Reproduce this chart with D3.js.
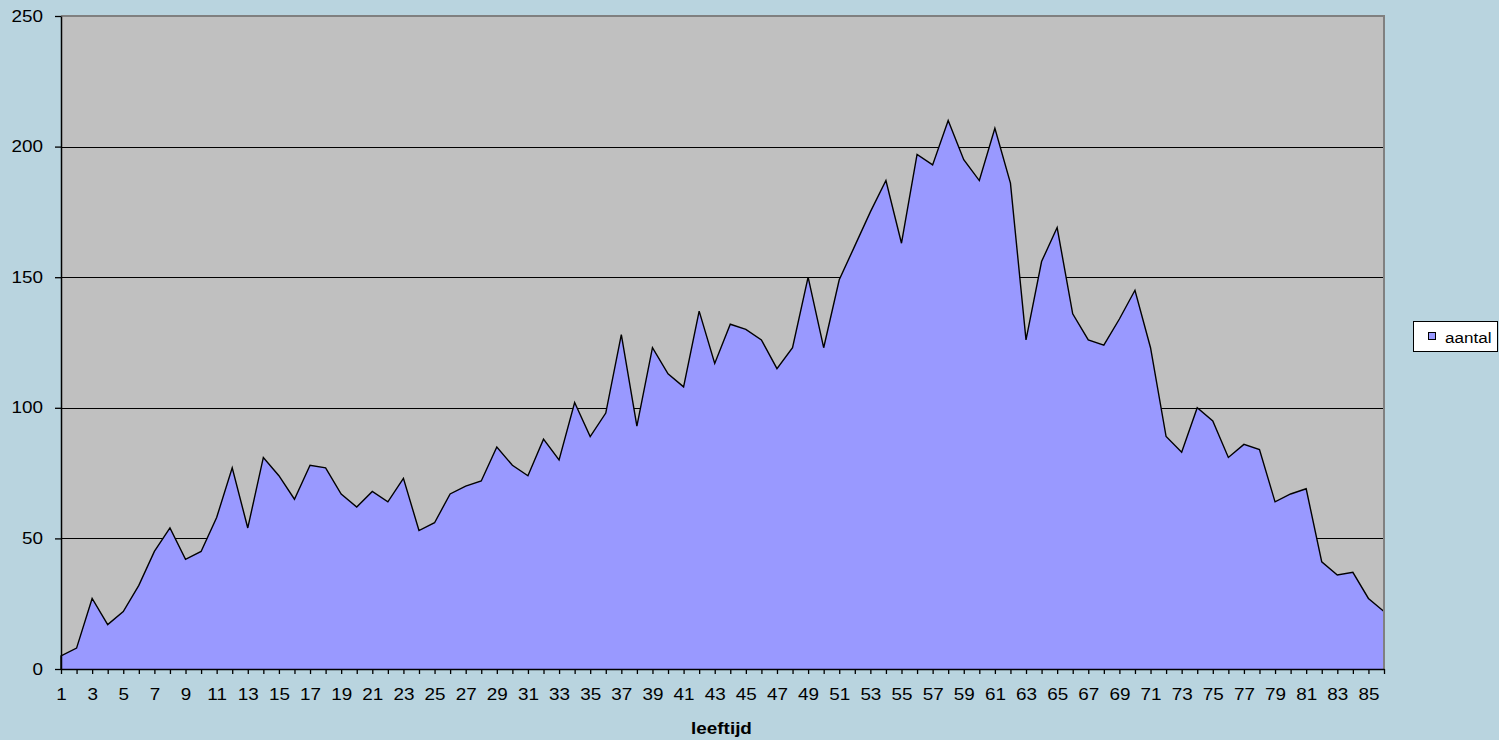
<!DOCTYPE html>
<html>
<head>
<meta charset="utf-8">
<script src="https://cdn.jsdelivr.net/npm/d3@7"></script>
<style>
html,body{margin:0;padding:0;background:#B9D4DF;}
svg{display:block;}
text{font-family:"Liberation Sans",Arial,sans-serif;fill:#000;}
</style>
</head>
<body>
<svg id="chart" width="1499" height="740"></svg>
<script>
const ages = d3.range(1, 87);
const aantal = [5,8,27,17,22,32,45,54,42,45,58,77,54,81,74,65,78,77,67,62,68,64,73,53,56,67,70,72,85,78,74,88,80,102,89,98,128,93,123,113,108,137,117,132,130,126,115,123,150,123,149,162,175,187,163,197,193,210,195,187,207,186,126,156,169,136,126,124,134,145,123,89,83,100,95,81,86,84,64,67,69,41,36,37,27,22];
const yTicks = [0,50,100,150,200,250];
const gridValues = [50,100,150,200];
const seriesName = "aantal";
const xTitle = "leeftijd";

(function () {
const W = 1499, H = 740;
const pL = 61, pR = 1384, pT = 16, pB = 669;
const SX = 1.18; // horizontal text stretch seen in the reference

const svg = d3.select("#chart");
svg.append("rect").attr("width", W).attr("height", H).attr("fill", "#B9D4DF");

const x = d3.scalePoint().domain(ages).range([pL, pR]).padding(0);
const y = d3.scaleLinear().domain([0, 250]).range([pB, pT]);

// plot area
svg.append("rect").attr("x", pL).attr("y", pT).attr("width", pR - pL).attr("height", pB - pT)
  .attr("fill", "#C0C0C0");

// gridlines
svg.append("g").selectAll("line").data(gridValues).join("line")
  .attr("x1", pL).attr("x2", pR)
  .attr("y1", d => Math.round(y(d)) + 0.5).attr("y2", d => Math.round(y(d)) + 0.5)
  .attr("stroke", "#000").attr("stroke-width", 1);

// area
const data = ages.map((a, i) => ({a, v: aantal[i]}));
const area = d3.area().x(d => x(d.a)).y0(y(0)).y1(d => y(d.v));
svg.append("path").datum(data).attr("d", area).attr("fill", "#9999FF");
const outline = [{a: ages[0], v: 0}, ...data, {a: ages[ages.length - 1], v: 0}];
svg.append("path").datum(outline)
  .attr("d", d3.line().x(d => x(d.a)).y(d => y(d.v)))
  .attr("fill", "none").attr("stroke", "#000").attr("stroke-width", 1.4).attr("stroke-linejoin", "miter");

// plot border (top/right gray)
svg.append("path")
  .attr("d", `M${pL},${pT} H${pR} V${pB}`)
  .attr("fill", "none").attr("stroke", "#808080").attr("stroke-width", 2);

// y axis
const yAxis = d3.axisLeft(y).tickValues(yTicks).tickSize(6).tickSizeOuter(0);
const gy = svg.append("g").attr("transform", `translate(${pL},0)`).call(yAxis);
gy.select(".domain").attr("stroke", "#000").attr("stroke-width", 1.5);
gy.selectAll(".tick line").attr("stroke", "#000").attr("stroke-width", 1.3);
gy.selectAll(".tick text")
  .attr("x", -18 / SX).attr("transform", `scale(${SX},1)`)
  .style("font-size", "16px").style("font-family", "'Liberation Sans',Arial,sans-serif").attr("fill", "#000");

// x axis
const xAxis = d3.axisBottom(x).tickValues(ages).tickSize(5).tickSizeOuter(0)
  .tickFormat(d => (d % 2 === 1 ? String(d) : ""));
const gx = svg.append("g").attr("transform", `translate(0,${pB})`).call(xAxis);
gx.select(".domain").attr("stroke", "#000").attr("stroke-width", 1.5);
gx.selectAll(".tick line").attr("stroke", "#000").attr("stroke-width", 1.3);
gx.selectAll(".tick text")
  .attr("y", 31).attr("dy", 0).attr("transform", `scale(${SX},1)`)
  .style("font-size", "16px").style("font-family", "'Liberation Sans',Arial,sans-serif").attr("fill", "#000");

// x title
svg.append("text")
  .attr("transform", `translate(${(pL + pR) / 2 - 1},734) scale(${SX},1)`)
  .attr("text-anchor", "middle")
  .style("font-size", "16px").style("font-weight", "bold")
  .text(xTitle);

// legend
const lg = svg.append("g");
lg.append("rect").attr("x", 1413.5).attr("y", 321.5).attr("width", 84).attr("height", 30)
  .attr("fill", "#fff").attr("stroke", "#000").attr("stroke-width", 1);
lg.append("rect").attr("x", 1428.5).attr("y", 332.5).attr("width", 7).attr("height", 7)
  .attr("fill", "#9999FF").attr("stroke", "#000").attr("stroke-width", 1);
lg.append("text")
  .attr("transform", `translate(1445,343) scale(1.1,1)`)
  .style("font-size", "15.5px")
  .text(seriesName);
})();
</script>
</body>
</html>
